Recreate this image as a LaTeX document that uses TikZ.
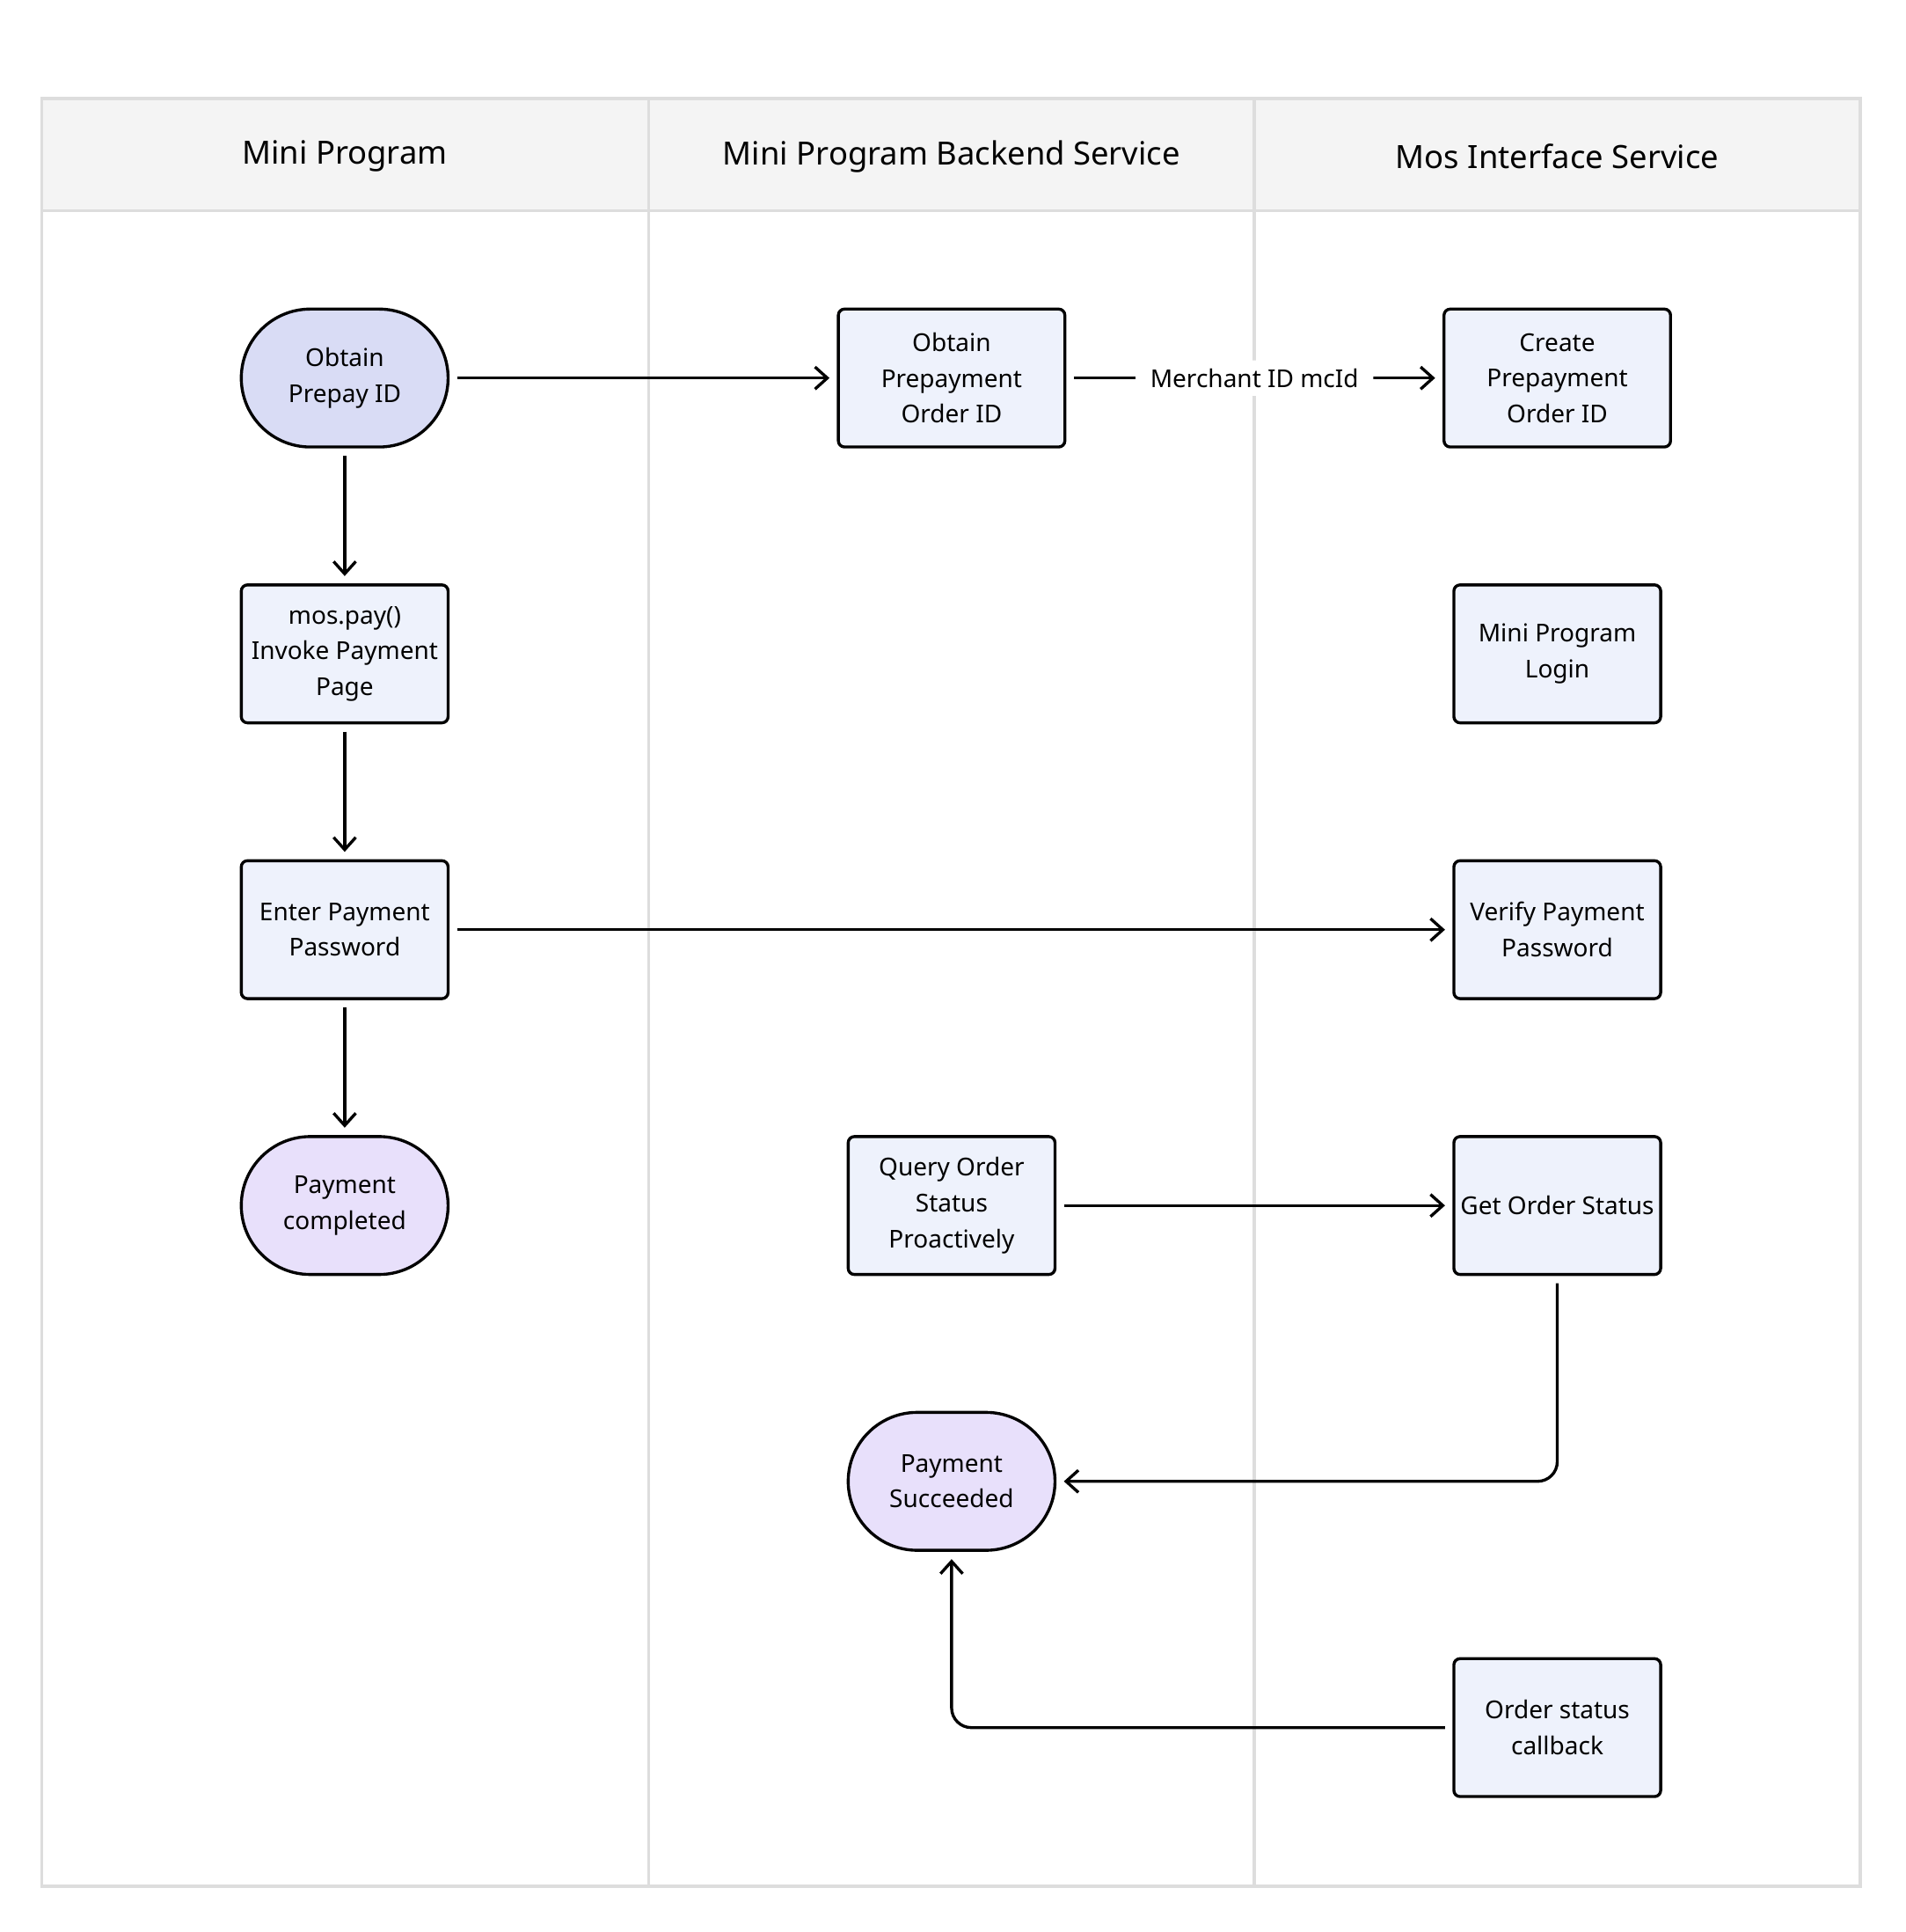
\documentclass[tikz,border=0pt]{standalone}
\usepackage{fontspec}
\setmainfont{Noto Sans}
\usetikzlibrary{arrows.meta}
\definecolor{boxf}{HTML}{EEF2FC}
\definecolor{startf}{HTML}{D9DCF5}
\definecolor{endf}{HTML}{E8E0FB}
\definecolor{lanec}{HTML}{DDDDDD}
\definecolor{headf}{HTML}{F4F4F4}
\begin{document}
\begin{tikzpicture}[x=0.5pt,y=-0.5pt,
  box/.style={draw=black,line width=1.2pt,fill=boxf,rounded corners=2.5pt,minimum width=84pt,minimum height=56pt,align=center,font=\fontsize{10}{14.5}\selectfont,inner sep=1pt},
  term/.style={box,rounded corners=28pt},
  head/.style={font=\bfseries\fontsize{13}{15}\selectfont},
  arr/.style={line width=1.2pt,-{Straight Barb[length=5pt,width=9pt]},shorten >=3pt,shorten <=3pt,rounded corners=8pt}]
\useasboundingbox (0,0) rectangle (1548,1569);
\fill[headf] (34,80) rectangle (1511,171);
\draw[lanec,line width=1.3pt] (34,80) rectangle (1511,1532);
\draw[lanec,line width=1.3pt] (34,171) -- (1511,171);
\draw[lanec,line width=1.3pt] (527,80) -- (527,1532);
\draw[lanec,line width=1.3pt] (1019,80) -- (1019,1532);
\node[head] (h1) at (280,127) {Mini Program};
\node[head] (h2) at (773,127) {Mini Program Backend Service};
\node[head] (h3) at (1265,127) {Mos Interface Service};

\node[term,fill=startf] (prepay) at (280,307) {Obtain\\Prepay ID};
\node[box,minimum width=92pt] (obtain) at (773,307) {Obtain\\Prepayment\\Order ID};
\node[box,minimum width=92pt] (create) at (1265,307) {Create\\Prepayment\\Order ID};
\node[box] (mospay) at (280,531) {mos.pay()\\Invoke Payment\\Page};
\node[box] (login) at (1265,531) {Mini Program\\Login};
\node[box] (enter) at (280,755) {Enter Payment\\Password};
\node[box] (verify) at (1265,755) {Verify Payment\\Password};
\node[term,fill=endf] (done) at (280,979) {Payment\\completed};
\node[box] (query) at (773,979) {Query Order\\Status\\Proactively};
\node[box] (get) at (1265,979) {Get Order Status};
\node[term,fill=endf] (succ) at (773,1203) {Payment\\Succeeded};
\node[box] (cb) at (1265,1403) {Order status\\callback};

\draw[arr] (prepay) -- (obtain);
\draw[arr] (obtain) -- node[fill=white,font=\fontsize{10}{12}\selectfont,inner xsep=6pt] {Merchant ID mcId} (create);
\draw[arr] (prepay) -- (mospay);
\draw[arr] (mospay) -- (enter);
\draw[arr] (enter) -- (done);
\draw[arr] (enter) -- (verify);
\draw[arr] (query) -- (get);
\draw[arr] (get) |- (succ);
\draw[arr] (cb) -| (succ);
\end{tikzpicture}
\end{document}
